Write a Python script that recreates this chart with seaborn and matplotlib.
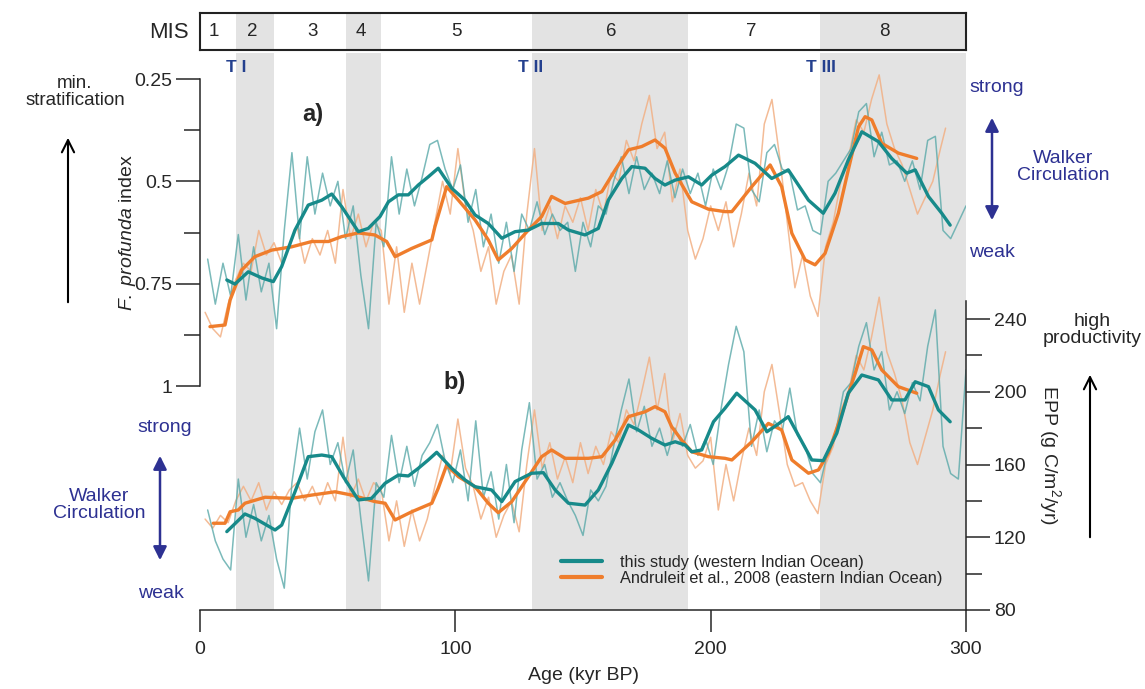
import numpy as np
import pandas as pd
import matplotlib
matplotlib.use('Agg')
import matplotlib.pyplot as plt
import matplotlib.transforms as mtrans
import seaborn as sns
from matplotlib.lines import Line2D
from matplotlib.ticker import FixedLocator

# ---------------- data ----------------
mis_bounds = [0, 14, 29, 57, 71, 130, 191, 243, 300]
mis_labels = ['1', '2', '3', '4', '5', '6', '7', '8']
mis_label_pos = [5.5, 20.5, 44, 63, 100.5, 161, 216, 268]
glacial_stages = [(14, 29), (57, 71), (130, 191), (243, 300)]
terminations = ['T I', 'T II', 'T III']
termination_pos = [14, 129.5, 243]

# panel a: F. profunda index, smoothed
age_a_teal_s = [10.5, 13.7, 18.9, 24.2, 28.7, 32.0, 37.2, 42.4, 47.7, 51.6, 55.5, 62.0, 65.9, 70.5, 73.8,
                77.7, 81.6, 85.5, 89.4, 93.3, 98.6, 103.8, 107.7, 112.9, 118.2, 123.4, 128.6, 133.8, 140.3,
                144.3, 150.8, 156.0, 159.9, 165.2, 169.1, 174.3, 178.2, 182.1, 186.1, 191.3, 196.5, 200.4,
                205.6, 210.9, 217.4, 223.9, 230.4, 238.3, 244.1, 248.7, 253.9, 259.2, 265.7, 270.9, 276.8,
                280.1, 285.3, 290.5, 293.8]
fp_teal_s = [0.741, 0.751, 0.721, 0.736, 0.745, 0.708, 0.619, 0.558, 0.546, 0.531, 0.562, 0.623, 0.615,
             0.586, 0.550, 0.533, 0.533, 0.509, 0.489, 0.468, 0.517, 0.546, 0.582, 0.603, 0.639, 0.623,
             0.619, 0.603, 0.603, 0.619, 0.631, 0.615, 0.546, 0.493, 0.464, 0.468, 0.493, 0.509, 0.497,
             0.489, 0.509, 0.485, 0.464, 0.436, 0.456, 0.493, 0.472, 0.546, 0.578, 0.529, 0.448, 0.379,
             0.403, 0.444, 0.480, 0.472, 0.537, 0.578, 0.607]
age_a_or_s = [3.9, 9.8, 11.8, 16.3, 21.5, 28.1, 35.9, 43.8, 50.3, 55.5, 62.0, 68.5, 73.1, 76.4, 82.9, 90.8,
              92.0, 96.6, 101.2, 107.7, 112.9, 116.8, 122.1, 128.6, 133.8, 137.7, 143.0, 152.1, 157.4,
              162.6, 167.8, 173.0, 178.2, 182.1, 186.1, 192.6, 199.1, 205.6, 208.3, 216.1, 223.3, 227.8,
              231.8, 237.0, 240.9, 244.8, 250.0, 253.9, 257.9, 260.5, 263.1, 267.0, 273.5, 280.7]
fp_or_s = [0.855, 0.851, 0.790, 0.717, 0.684, 0.668, 0.660, 0.647, 0.647, 0.635, 0.626, 0.631, 0.647,
           0.684, 0.664, 0.643, 0.611, 0.513, 0.546, 0.594, 0.643, 0.692, 0.664, 0.619, 0.586, 0.537,
           0.554, 0.541, 0.525, 0.472, 0.423, 0.415, 0.399, 0.419, 0.480, 0.550, 0.568, 0.574, 0.574,
           0.513, 0.460, 0.513, 0.627, 0.692, 0.704, 0.676, 0.578, 0.472, 0.367, 0.342, 0.350, 0.407,
           0.431, 0.444]

# raw records
age_teal_raw = [3, 6, 9, 12, 15, 18, 21, 24, 27, 30, 33, 36, 39, 42, 45, 48, 51, 54, 57, 60, 63, 66, 69, 72,
                75, 78, 81, 84, 87, 90, 93, 96, 99, 102, 105, 108, 111, 114, 117, 120, 123, 126, 129, 132,
                135, 138, 141, 144, 147, 150, 153, 156, 159, 162, 165, 168, 171, 174, 177, 180, 183, 186,
                189, 192, 195, 198, 201, 204, 207, 210, 213, 216, 219, 222, 225, 228, 231, 234, 237, 240,
                243, 246, 249, 252, 255, 258, 261, 264, 267, 270, 273, 276, 279, 282, 285, 288, 291, 294,
                297, 300]
fp_teal_raw = [0.69, 0.80, 0.70, 0.78, 0.63, 0.79, 0.66, 0.77, 0.70, 0.86, 0.62, 0.43, 0.64, 0.44, 0.58,
               0.48, 0.56, 0.50, 0.64, 0.56, 0.73, 0.86, 0.60, 0.66, 0.44, 0.58, 0.47, 0.56, 0.49, 0.41,
               0.40, 0.47, 0.52, 0.46, 0.60, 0.52, 0.66, 0.58, 0.70, 0.60, 0.72, 0.58, 0.62, 0.55, 0.63,
               0.58, 0.62, 0.60, 0.72, 0.60, 0.66, 0.56, 0.58, 0.50, 0.44, 0.53, 0.44, 0.52, 0.48, 0.53,
               0.45, 0.54, 0.47, 0.53, 0.48, 0.56, 0.47, 0.52, 0.46, 0.36, 0.37, 0.52, 0.55, 0.43, 0.41,
               0.47, 0.48, 0.57, 0.56, 0.62, 0.63, 0.50, 0.48, 0.45, 0.42, 0.33, 0.31, 0.44, 0.38, 0.46,
               0.45, 0.50, 0.45, 0.52, 0.40, 0.39, 0.62, 0.64, 0.60, 0.56]
epp_teal_raw = [135, 118, 108, 102, 152, 120, 138, 118, 132, 108, 92, 150, 180, 152, 178, 190, 160, 172,
                150, 168, 130, 96, 150, 142, 176, 150, 170, 148, 165, 172, 182, 162, 150, 168, 140, 184,
                142, 156, 130, 160, 128, 168, 194, 152, 160, 142, 150, 140, 132, 121, 146, 140, 148, 170,
                190, 207, 178, 192, 170, 180, 165, 180, 170, 182, 165, 174, 160, 190, 215, 236, 222, 170,
                190, 167, 184, 178, 202, 176, 170, 155, 150, 168, 178, 200, 205, 225, 238, 212, 222, 190,
                200, 188, 205, 195, 225, 245, 170, 155, 152, 212]
age_or_raw = [2, 5, 8, 11, 14, 17, 20, 23, 26, 29, 32, 35, 38, 41, 44, 47, 50, 53, 56, 59, 62, 65, 68, 71,
              74, 77, 80, 83, 86, 89, 92, 95, 98, 101, 104, 107, 110, 113, 116, 119, 122, 125, 128, 131,
              134, 137, 140, 143, 146, 149, 152, 155, 158, 161, 164, 167, 170, 173, 176, 179, 182, 185,
              188, 191, 194, 197, 200, 203, 206, 209, 212, 215, 218, 221, 224, 227, 230, 233, 236, 239,
              242, 245, 248, 251, 254, 257, 260, 263, 266, 269, 272, 275, 278, 281, 284, 287, 290, 292]
fp_or_raw = [0.82, 0.86, 0.88, 0.80, 0.74, 0.70, 0.72, 0.62, 0.68, 0.65, 0.70, 0.66, 0.61, 0.70, 0.64,
             0.68, 0.62, 0.70, 0.52, 0.64, 0.58, 0.66, 0.60, 0.62, 0.80, 0.66, 0.82, 0.70, 0.80, 0.70,
             0.60, 0.50, 0.58, 0.42, 0.56, 0.62, 0.72, 0.66, 0.80, 0.72, 0.68, 0.80, 0.58, 0.42, 0.62,
             0.56, 0.64, 0.56, 0.60, 0.54, 0.62, 0.52, 0.58, 0.48, 0.50, 0.40, 0.45, 0.36, 0.29, 0.42,
             0.38, 0.55, 0.47, 0.62, 0.69, 0.64, 0.56, 0.62, 0.55, 0.66, 0.58, 0.48, 0.56, 0.36, 0.30,
             0.44, 0.60, 0.76, 0.68, 0.78, 0.83, 0.66, 0.60, 0.50, 0.44, 0.35, 0.38, 0.30, 0.24, 0.36,
             0.42, 0.46, 0.52, 0.58, 0.54, 0.50, 0.42, 0.37]
epp_or_raw = [130, 125, 132, 128, 140, 148, 140, 150, 135, 145, 138, 146, 150, 140, 148, 138, 150, 140, 175,
              142, 152, 140, 150, 146, 118, 140, 115, 135, 118, 130, 148, 165, 155, 185, 158, 148, 130, 142,
              120, 132, 140, 123, 160, 190, 158, 172, 152, 164, 150, 172, 155, 170, 160, 178, 172, 190, 182,
              200, 219, 190, 210, 172, 188, 165, 158, 162, 175, 135, 160, 140, 162, 180, 165, 200, 215, 188,
              160, 148, 150, 140, 133, 160, 170, 190, 200, 220, 212, 230, 252, 222, 210, 195, 172, 160, 175,
              190, 210, 222]

# panel b: EPP, smoothed
age_b_teal_s = [10.5, 17.6, 21.5, 29.4, 32.0, 37.2, 42.4, 47.7, 51.6, 56.1, 62.0, 67.2, 72.5, 77.7, 81.6,
                85.5, 89.4, 92.7, 98.6, 103.8, 107.7, 114.2, 118.2, 123.4, 129.9, 134.5, 139.1, 144.3, 150.8,
                156.0, 161.3, 167.8, 171.7, 176.9, 182.1, 186.1, 190.0, 192.6, 196.5, 201.1, 205.6, 210.2,
                217.4, 222.0, 225.9, 230.4, 239.6, 244.1, 249.4, 253.9, 259.2, 265.7, 270.9, 276.1, 280.1,
                285.3, 289.2, 293.8]
epp_teal_s = [123.1, 132.8, 130.4, 124.0, 126.7, 145.0, 164.3, 165.2, 164.3, 153.3, 140.5, 141.4, 149.7,
              154.2, 153.7, 157.9, 162.5, 166.7, 157.9, 151.5, 147.8, 146.0, 139.6, 150.6, 155.2, 155.5,
              146.0, 138.7, 137.7, 146.0, 160.7, 181.7, 179.0, 174.4, 170.7, 172.5, 170.7, 167.0, 168.0,
              183.5, 190.9, 199.2, 190.0, 178.0, 181.7, 186.3, 162.5, 162.1, 177.2, 199.2, 209.2, 206.5,
              195.5, 195.5, 205.5, 202.8, 190.0, 183.5]
age_b_or_s = [5.2, 9.8, 11.8, 15.0, 17.6, 25.5, 35.9, 43.8, 52.9, 59.4, 68.5, 72.5, 76.4, 82.9, 90.8, 93.3,
              96.6, 101.2, 107.7, 112.9, 116.8, 122.1, 129.9, 133.8, 137.7, 143.0, 152.1, 157.4, 162.6,
              167.8, 174.3, 178.2, 182.1, 184.7, 188.6, 192.6, 199.1, 205.6, 208.3, 216.1, 222.6, 227.8,
              231.8, 238.3, 242.2, 246.1, 251.4, 256.6, 259.8, 263.1, 267.0, 273.5, 280.7]
epp_or_s = [127.7, 127.7, 134.0, 135.0, 138.7, 142.0, 141.4, 143.2, 145.0, 143.2, 139.6, 138.7, 129.5,
            134.0, 138.7, 146.9, 159.7, 153.3, 147.8, 138.7, 133.5, 139.6, 156.0, 164.3, 168.0, 163.4,
            163.4, 164.3, 173.5, 186.3, 189.0, 191.8, 189.0, 180.8, 173.5, 167.0, 164.3, 163.4, 162.5,
            172.5, 182.6, 179.0, 162.5, 155.2, 157.0, 166.2, 188.1, 210.1, 224.8, 223.0, 212.0, 202.8,
            199.2]

legend_labels = ['this study (western Indian Ocean)', 'Andruleit et al., 2008 (eastern Indian Ocean)']

# ---------------- style ----------------
sns.set_style('ticks')
plt.rcParams['font.family'] = ['Liberation Sans', 'DejaVu Sans']
plt.rcParams['mathtext.fontset'] = 'custom'
plt.rcParams['mathtext.rm'] = 'Liberation Sans'
plt.rcParams['mathtext.it'] = 'Liberation Sans:italic'
plt.rcParams['axes.linewidth'] = 1.1

TEAL = '#178a8a'
TEAL_RAW = '#5aa9a9'
ORANGE = '#ef7d2c'
ORANGE_RAW = '#f2b084'
GREY = '#e3e3e3'
NAVY = '#24408e'
INDIGO = '#2d3192'

W, H = 1145, 689
fig = plt.figure(figsize=(W / 100, H / 100), dpi=100)


def fx(px):
    return px / W


def fy(py):
    return 1 - py / H


def rect(l, t, r, b):
    return [fx(l), fy(b), fx(r) - fx(l), fy(t) - fy(b)]


X0, X1 = 200, 966

# background bands
ax_bg = fig.add_axes(rect(X0, 53, X1, 610))
ax_bg.set_xlim(0, 300)
ax_bg.set_ylim(0, 1)
ax_bg.axis('off')
for a0, a1 in glacial_stages:
    ax_bg.axvspan(a0, a1, color=GREY, lw=0, zorder=0)

# MIS bar
ax_mis = fig.add_axes(rect(X0, 13, X1, 50))
ax_mis.set_xlim(0, 300)
ax_mis.set_ylim(0, 1)
ax_mis.set_xticks([])
ax_mis.set_yticks([])
for s in ax_mis.spines.values():
    s.set_linewidth(1.5)
    s.set_color('#222222')
for a0, a1 in glacial_stages:
    ax_mis.axvspan(a0, a1, color=GREY, lw=0, zorder=0)
for lab, pos in zip(mis_labels, mis_label_pos):
    ax_mis.text(pos, 0.5, lab, ha='center', va='center', fontsize=13.5)
fig.text(fx(189), fy(33), 'MIS', ha='right', va='center', fontsize=16)

trans_bg = mtrans.blended_transform_factory(ax_bg.transData, fig.transFigure)
for lab, pos in zip(terminations, termination_pos):
    fig.text(pos, fy(68), lab, transform=trans_bg, ha='center', va='center', fontsize=12.5,
             fontweight='bold', color=NAVY)

# panel a
ppu_a = (386 - 79) / 0.75
ax_a = fig.add_axes(rect(X0, 55, X1, 400))
ax_a.patch.set_alpha(0)
ax_a.set_xlim(0, 300)
ax_a.set_ylim(1 + (400 - 386) / ppu_a, 0.25 - (79 - 55) / ppu_a)
sns.lineplot(x=age_or_raw, y=fp_or_raw, ax=ax_a, color=ORANGE_RAW, lw=1.1, alpha=0.85, estimator=None, legend=False)
sns.lineplot(x=age_teal_raw, y=fp_teal_raw, ax=ax_a, color=TEAL_RAW, lw=1.1, alpha=0.8, estimator=None, legend=False)
sns.lineplot(x=age_a_or_s, y=fp_or_s, ax=ax_a, color=ORANGE, lw=2.4, estimator=None, legend=False)
sns.lineplot(x=age_a_teal_s, y=fp_teal_s, ax=ax_a, color=TEAL, lw=2.4, estimator=None, legend=False)
for side in ['top', 'right', 'bottom']:
    ax_a.spines[side].set_visible(False)
ax_a.spines['left'].set_bounds(0.25, 1.0)
ax_a.set_xticks([])
ax_a.yaxis.set_major_locator(FixedLocator([0.25, 0.5, 0.75, 1.0]))
ax_a.yaxis.set_minor_locator(FixedLocator([0.375, 0.625, 0.875]))
ax_a.set_yticklabels(['0.25', '0.5', '0.75', '1'])
ax_a.tick_params(axis='y', which='major', length=17, width=1.1, labelsize=14, pad=3)
ax_a.tick_params(axis='y', which='minor', length=11.5, width=1.1)
ax_a.set_xlabel('')
ax_a.set_ylabel('')

# panel b
ppu_b = (610 - 319) / 160
ax_b = fig.add_axes(rect(X0, 290, X1, 610))
ax_b.patch.set_alpha(0)
ax_b.set_xlim(0, 300)
ax_b.set_ylim(80, 80 + 320 / ppu_b)
sns.lineplot(x=age_or_raw, y=epp_or_raw, ax=ax_b, color=ORANGE_RAW, lw=1.1, alpha=0.85, estimator=None, legend=False)
sns.lineplot(x=age_teal_raw, y=epp_teal_raw, ax=ax_b, color=TEAL_RAW, lw=1.1, alpha=0.8, estimator=None, legend=False)
sns.lineplot(x=age_b_or_s, y=epp_or_s, ax=ax_b, color=ORANGE, lw=2.4, estimator=None, legend=False)
sns.lineplot(x=age_b_teal_s, y=epp_teal_s, ax=ax_b, color=TEAL, lw=2.4, estimator=None, legend=False)
for side in ['top', 'left']:
    ax_b.spines[side].set_visible(False)
ax_b.spines['right'].set_bounds(80, 250)
ax_b.spines['bottom'].set_bounds(0, 300)
ax_b.yaxis.tick_right()
ax_b.yaxis.set_major_locator(FixedLocator([80, 120, 160, 200, 240]))
ax_b.yaxis.set_minor_locator(FixedLocator([100, 140, 180, 220]))
ax_b.tick_params(axis='y', which='major', length=17, width=1.1, labelsize=14, pad=3)
ax_b.tick_params(axis='y', which='minor', length=11.5, width=1.1)
ax_b.xaxis.set_major_locator(FixedLocator([0, 100, 200, 300]))
ax_b.tick_params(axis='x', which='major', length=16, width=1.1, labelsize=14, pad=6)
ax_b.set_xlabel('')
ax_b.set_ylabel('')

# legend
handles = [Line2D([], [], color=TEAL, lw=3), Line2D([], [], color=ORANGE, lw=3)]
fig.legend(handles=handles, labels=legend_labels, loc='upper left', bbox_to_anchor=(fx(561), fy(555)),
           frameon=False, fontsize=11.8, handlelength=2.5, handletextpad=1.1, labelspacing=0.05,
           borderaxespad=0, borderpad=0)

# panel labels
fig.text(fx(313), fy(115), 'a)', ha='center', va='center', fontsize=17, fontweight='bold')
fig.text(fx(455), fy(383), 'b)', ha='center', va='center', fontsize=17, fontweight='bold')

# axis labels
fig.text(fx(127), fy(233), r'$\mathit{F.\ profunda}$ index', rotation=90, ha='center', va='center', fontsize=14)
fig.text(fx(1050), fy(455), r'EPP (g C/m$^2$/yr)', rotation=-90, ha='center', va='center', fontsize=14)
fig.text(fx(583), fy(675), 'Age (kyr BP)', ha='center', va='center', fontsize=14)

# left top annotation
fig.text(fx(75), fy(92), 'min.\nstratification', ha='center', va='center', fontsize=13.5, linespacing=1.05)
fig.add_artist(matplotlib.patches.FancyArrowPatch((fx(68), fy(305)), (fx(68), fy(135)),
                                                  transform=fig.transFigure, arrowstyle='->',
                                                  mutation_scale=22, lw=1.5, color='black'))

# right bottom annotation
fig.text(fx(1092), fy(330), 'high\nproductivity', ha='center', va='center', fontsize=14, linespacing=1.05)
fig.add_artist(matplotlib.patches.FancyArrowPatch((fx(1090), fy(540)), (fx(1090), fy(372)),
                                                  transform=fig.transFigure, arrowstyle='->',
                                                  mutation_scale=22, lw=1.5, color='black'))

# Walker circulation (top right)
fig.text(fx(997), fy(87), 'strong', ha='center', va='center', fontsize=14, color=INDIGO)
fig.text(fx(992), fy(253), 'weak', ha='center', va='center', fontsize=14, color=INDIGO)
fig.text(fx(1063), fy(167), 'Walker\nCirculation', ha='center', va='center', fontsize=14, color=INDIGO,
         linespacing=1.05)
fig.add_artist(matplotlib.patches.FancyArrowPatch((fx(992), fy(223)), (fx(992), fy(115)),
                                                  transform=fig.transFigure, arrowstyle='<|-|>',
                                                  mutation_scale=20, lw=1.8, color=INDIGO))

# Walker circulation (bottom left)
fig.text(fx(165), fy(427), 'strong', ha='center', va='center', fontsize=14, color=INDIGO)
fig.text(fx(161), fy(593), 'weak', ha='center', va='center', fontsize=14, color=INDIGO)
fig.text(fx(99), fy(505), 'Walker\nCirculation', ha='center', va='center', fontsize=14, color=INDIGO,
         linespacing=1.05)
fig.add_artist(matplotlib.patches.FancyArrowPatch((fx(160), fy(563)), (fx(160), fy(453)),
                                                  transform=fig.transFigure, arrowstyle='<|-|>',
                                                  mutation_scale=20, lw=1.8, color=INDIGO))

fig.savefig('out.png', dpi=100)
